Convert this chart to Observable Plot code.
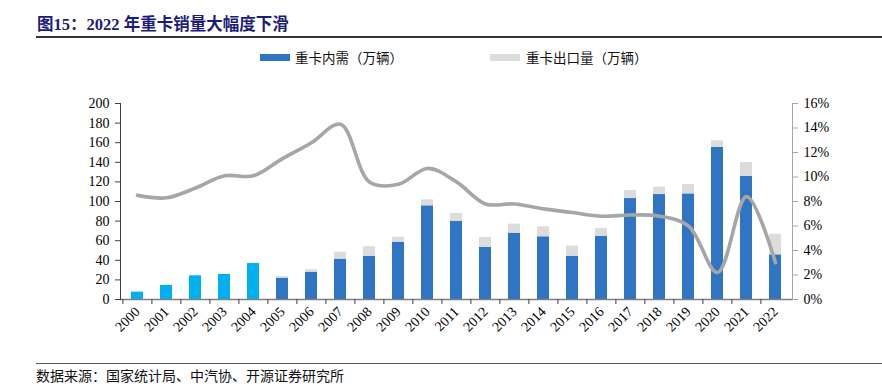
<!DOCTYPE html>
<html><head><meta charset="utf-8">
<script src="https://cdn.jsdelivr.net/npm/d3@7"></script>
<script src="https://cdn.jsdelivr.net/npm/@observablehq/plot@0.6"></script>
<style>
body{margin:0;width:882px;height:384px;position:relative;background:#fff;overflow:hidden;}
.abs{position:absolute;white-space:nowrap;}
#title{left:37px;top:11px;font:bold 16.5px 'Liberation Serif','Noto Sans CJK SC',serif;color:#1c1c78;}
.rule{position:absolute;left:36px;width:846px;}
.leg{font:13.5px 'Noto Sans CJK SC',sans-serif;color:#111;}
.sw{position:absolute;width:30px;height:7px;}
#foot{left:36px;top:367px;font:14px 'Noto Sans CJK SC',sans-serif;color:#111;line-height:16px;}
#chart{position:absolute;left:0;top:40px;}
</style></head>
<body>
<div id="title" class="abs">图15：2022 年重卡销量大幅度下滑</div>
<div class="rule" style="top:36px;height:1.5px;background:#333;"></div>
<div class="sw" style="left:260px;top:54px;background:#3074c4;"></div>
<div class="abs leg" style="left:295px;top:47px;">重卡内需（万辆）</div>
<div class="sw" style="left:490px;top:54px;background:#dcdcdc;"></div>
<div class="abs leg" style="left:526px;top:47px;">重卡出口量（万辆）</div>
<div id="chart"></div>
<div class="rule" style="top:363px;height:1px;background:#555;"></div>
<div id="foot" class="abs">数据来源：国家统计局、中汽协、开源证券研究所</div>
<script>
const years = ["2000","2001","2002","2003","2004","2005","2006","2007","2008","2009","2010","2011","2012","2013","2014","2015","2016","2017","2018","2019","2020","2021","2022"];
const domestic = [7.5,14.3,24.2,25.5,36.7,21.8,27.9,41.2,44.2,58.5,95.6,79.6,53.1,67.7,64.0,44.2,64.6,103.0,107.1,107.8,155.1,125.5,45.6];
const exportsV = [0,0,0,0,0,1.6,2.4,7.1,9.6,5.1,6.1,8.2,10.2,9.2,10.2,10.2,7.8,8.2,7.5,9.5,6.8,14.3,21.0];
const rate = [8.5,8.3,9.1,10.1,10.1,11.5,12.8,14.3,9.6,9.4,10.7,9.6,7.8,7.8,7.4,7.1,6.8,6.9,6.8,6.0,2.2,8.4,3.0];
const leftTicks = [0,20,40,60,80,100,120,140,160,180,200];
const pctTicks = [0,2,4,6,8,10,12,14,16];

const CYAN = "#00b0f0", BLUE = "#3074c4", GRAY = "#dcdcdc", LINE = "#a6a6a6";
const yMax = 200, pMax = 16, k = yMax / pMax;
const rows = years.map((y, i) => ({year: y, domestic: domestic[i], exp: exportsV[i], rate: rate[i]}));

const W = 882, H = 330, mL = 120, mR = 90, mT = 63, mB = 71;
const step = (W - mL - mR) / years.length;

const chart = Plot.plot({
  width: W, height: H, marginLeft: mL, marginRight: mR, marginTop: mT, marginBottom: mB,
  style: {fontFamily: "'Liberation Serif', serif", fontSize: "14px", color: "#000", background: "transparent", overflow: "visible"},
  x: {type: "band", domain: years, paddingInner: 0.6, paddingOuter: 0.3, axis: null, label: null},
  y: {domain: [0, yMax], axis: null, label: null},
  color: {type: "identity"},
  marks: [
    Plot.barY(rows, {x: "year", y1: 0, y2: "domestic", fill: d => (+d.year < 2005 ? CYAN : BLUE)}),
    Plot.barY(rows.filter(d => d.exp > 0), {x: "year", y1: "domestic", y2: d => d.domestic + d.exp, fill: GRAY}),
    Plot.lineY(rows, {x: "year", y: d => d.rate * k, stroke: LINE, strokeWidth: 3.6, curve: "catmull-rom"}),
    Plot.ruleY([0], {stroke: "#7f7f7f", strokeWidth: 1.4}),
    Plot.frame({anchor: "left", stroke: "#404040"}),
    Plot.frame({anchor: "right", stroke: "#a6a6a6"}),
    Plot.axisY({anchor: "left", label: null, ticks: leftTicks, tickSize: 5, tickPadding: 6, stroke: "#404040", fill: "#000"}),
    Plot.axisY({anchor: "right", label: null, ticks: pctTicks.map(p => p * k), tickFormat: d => Math.round(d / k) + "%", tickSize: 5, tickPadding: 6, stroke: "#a6a6a6", fill: "#000"}),
    Plot.axisX({anchor: "bottom", label: null, tickSize: 5, tickFormat: () => "", dx: -step / 2, stroke: "#404040"}),
    Plot.axisX({anchor: "bottom", label: null, tickSize: 0, tickPadding: 10, tickRotate: -45, fill: "#000"})
  ]
});
document.getElementById("chart").appendChild(chart);
</script>
</body></html>
